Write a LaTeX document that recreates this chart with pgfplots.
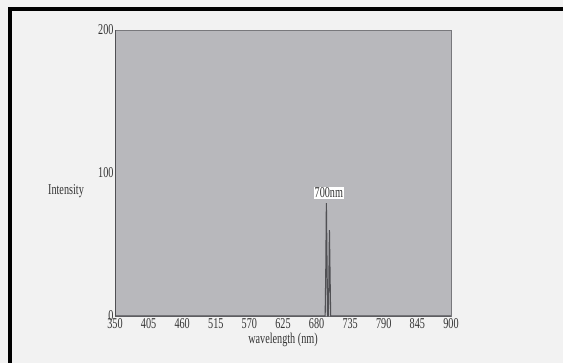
\documentclass[border=0pt]{standalone}
\usepackage{pgfplots}
\pgfplotsset{compat=1.18}
\usepackage{fontspec}
\setmainfont{Liberation Serif}[FakeStretch=0.68]
\definecolor{bg}{RGB}{242,242,242}
\definecolor{plotbg}{RGB}{184,184,188}
\definecolor{frame}{RGB}{120,120,124}
\definecolor{spec}{RGB}{80,80,84}
\begin{document}
\begin{tikzpicture}[x=1pt,y=1pt]
\fill[bg] (0pt,0pt) rectangle (563pt,363pt);
\fill[black] (8pt,0pt) rectangle (11.5pt,355.5pt);
\fill[black] (8pt,352pt) rectangle (563pt,355.5pt);
\begin{axis}[
  at={(115pt,47pt)}, anchor=south west,
  scale only axis, width=336pt, height=286pt,
  xmin=350, xmax=900, ymin=0, ymax=200,
  axis background/.style={fill=plotbg},
  axis line style={draw=frame, line width=0.8pt},
  xtick={350,405,460,515,570,625,680,735,790,845,900},
  ytick={0,100,200},
  major tick length=0pt,
  tick label style={font=\fontsize{15}{15}\selectfont, text=black!80},
  /pgf/number format/assume math mode=true,
  xticklabel style={yshift=1pt},
  yticklabel style={xshift=2pt},
  xlabel={wavelength (nm)},
  xlabel style={font=\fontsize{15}{15}\selectfont, text=black!80, yshift=2pt},
  clip=false,
]
\addplot[spec, line width=1.1pt] coordinates {
 (350,0) (690,0) (694,0) (695,30) (696,79) (697,40) (698,0) (699,0) (700,20) (701,60) (702,30) (703,0) (900,0)};
\addplot[spec, line width=0.8pt] coordinates {(351,0) (351,200)};
\node[fill=white, inner sep=1pt, font=\fontsize{15}{15}\selectfont, text=black!80] at (axis cs:700,86) {700nm};
\end{axis}
\node[font=\fontsize{15}{15}\selectfont, text=black!80] at (66pt,172pt) {Intensity};
\end{tikzpicture}
\end{document}
